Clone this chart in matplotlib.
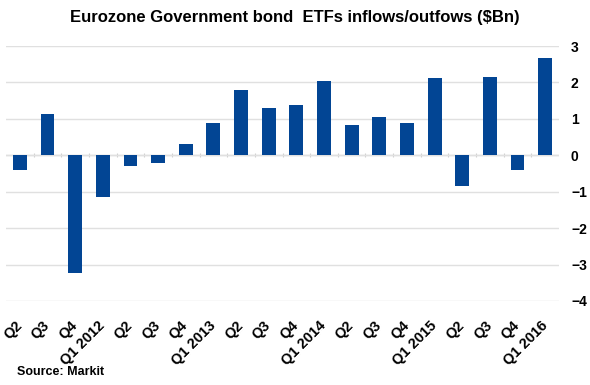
import numpy as np
import matplotlib
matplotlib.use('Agg')
import matplotlib.pyplot as plt

plt.rcParams['font.family'] = ['Liberation Sans', 'DejaVu Sans']

quarters = ['Q2', 'Q3', 'Q4', 'Q1 2012', 'Q2', 'Q3', 'Q4', 'Q1 2013',
            'Q2', 'Q3', 'Q4', 'Q1 2014', 'Q2', 'Q3', 'Q4', 'Q1 2015',
            'Q2', 'Q3', 'Q4', 'Q1 2016']
flows = [-0.41, 1.13, -3.23, -1.15, -0.30, -0.20, 0.30, 0.90,
         1.78, 1.30, 1.37, 2.05, 0.83, 1.04, 0.90, 2.13,
         -0.84, 2.15, -0.41, 2.67]
yticks = [-4, -3, -2, -1, 0, 1, 2, 3]

fig = plt.figure(figsize=(5.9, 3.85), dpi=100)
ax = fig.add_axes([0.0102, 0.2182, 0.9373, 0.6623])

x = np.arange(len(quarters))
ax.bar(x, flows, width=0.5, color='#024594', zorder=3)

ax.set_xlim(-0.5, len(quarters) - 0.5)
ax.set_ylim(-4, 3)
ax.set_yticks(yticks)
ax.yaxis.tick_right()
ax.tick_params(axis='y', length=0, pad=8.6, labelsize=10)
for lbl in ax.get_yticklabels():
    lbl.set_fontweight('bold')
ax.grid(axis='y', color='#e0e0e0', linewidth=1, zorder=0)

# zero line with small category separators
ax.axhline(0, color='#d9d9d9', linewidth=1, zorder=1)
ax.vlines(x[:-1] + 0.5, -0.06, 0.06, color='#d0d0d0', linewidth=0.8, zorder=1)

ax.set_xticks(x)
ax.set_xticklabels(quarters, rotation=45, ha='right', va='center',
                   rotation_mode='anchor', fontsize=10.5, fontweight='bold')
ax.tick_params(axis='x', length=0, pad=16)

for s in ax.spines.values():
    s.set_visible(False)

fig.text(0.5, 0.955, 'Eurozone Government bond  ETFs inflows/outfows ($Bn)',
         ha='center', va='center', fontsize=12, fontweight='bold')
fig.text(0.029, 0.034, 'Source: Markit', ha='left', va='center',
         fontsize=9, fontweight='bold')

fig.savefig('out.png', dpi=100)
